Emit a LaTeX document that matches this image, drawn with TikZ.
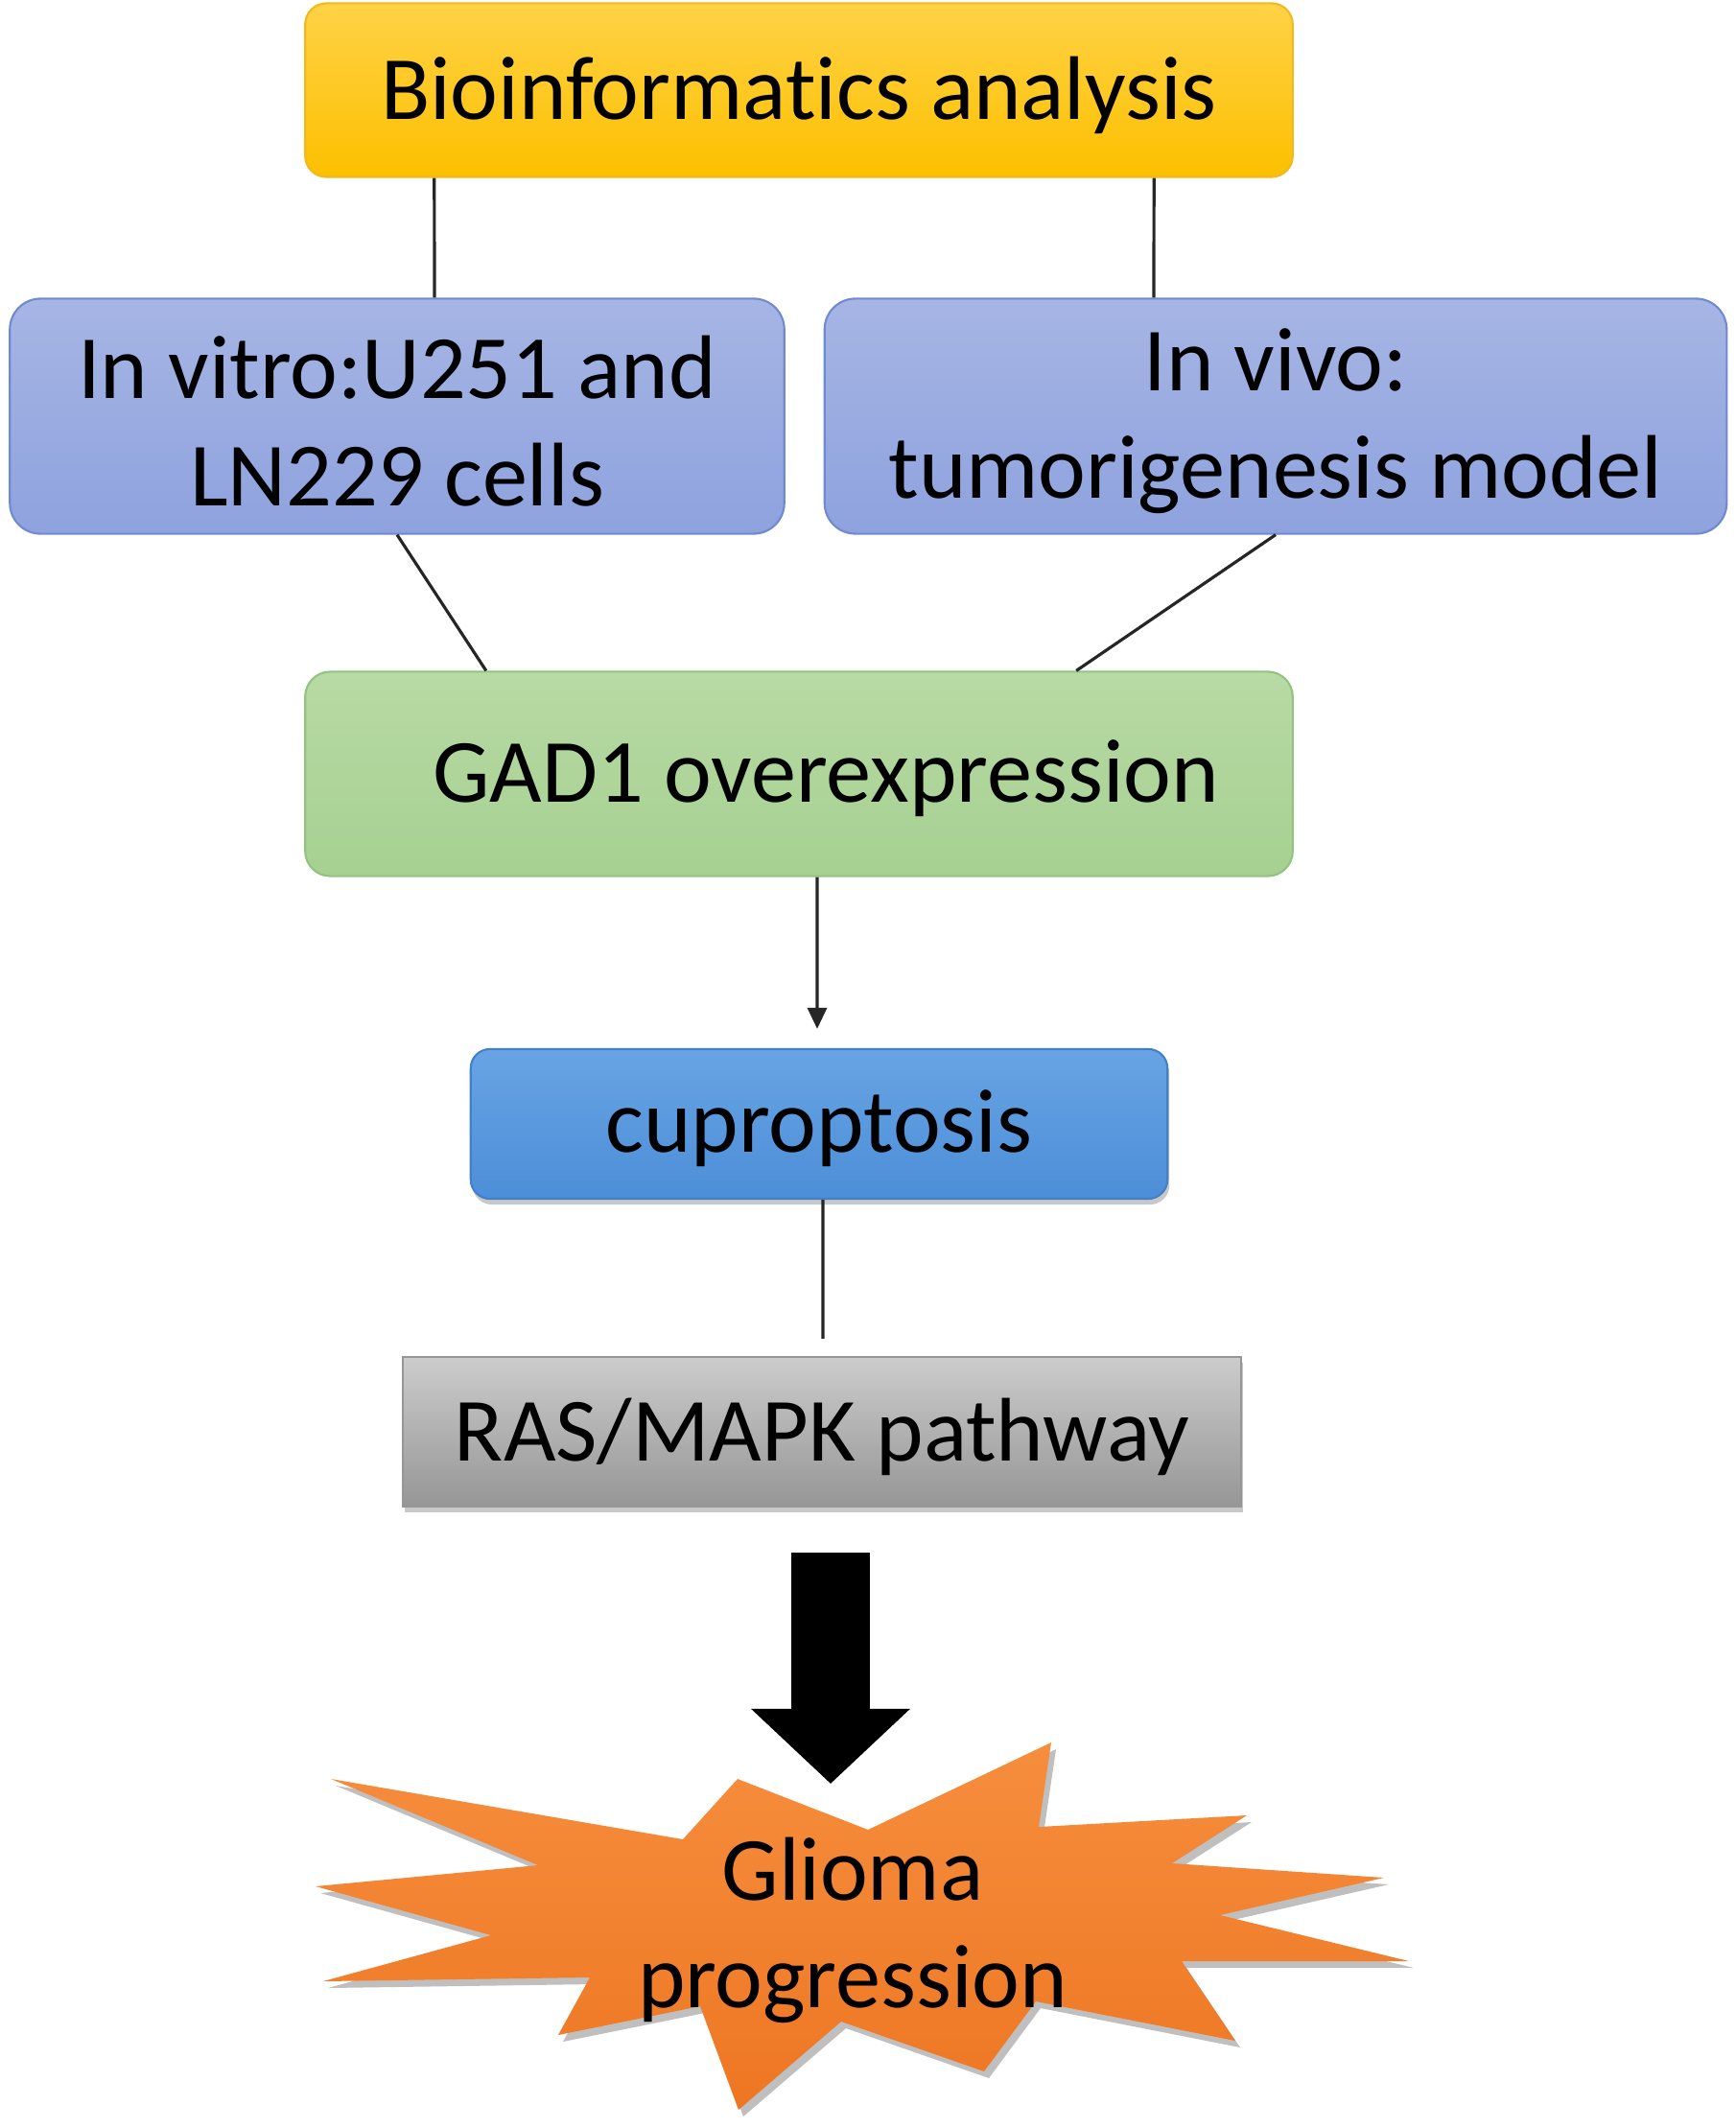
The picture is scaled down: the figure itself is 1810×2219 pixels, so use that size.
\documentclass[tikz,border=0pt]{standalone}
\usepackage{fontspec}
\setmainfont{Carlito}[Ligatures=NoCommon]
\usetikzlibrary{arrows.meta,shadows}
\definecolor{yelT}{RGB}{255,210,70}
\definecolor{yelB}{RGB}{252,192,0}
\definecolor{yelD}{RGB}{240,185,30}
\definecolor{purT}{RGB}{166,181,228}
\definecolor{purB}{RGB}{142,162,222}
\definecolor{purD}{RGB}{112,138,208}
\definecolor{grnT}{RGB}{184,218,164}
\definecolor{grnB}{RGB}{166,208,146}
\definecolor{grnD}{RGB}{148,195,128}
\definecolor{bluT}{RGB}{104,164,228}
\definecolor{bluB}{RGB}{76,142,216}
\definecolor{bluD}{RGB}{68,128,200}
\definecolor{gryT}{RGB}{204,204,204}
\definecolor{gryB}{RGB}{150,150,150}
\definecolor{orgT}{RGB}{246,142,62}
\definecolor{orgB}{RGB}{238,118,34}
\newcommand{\lowr}[1]{\raisebox{-0.05cm}[\height][\depth]{#1}}
\begin{document}
\begin{tikzpicture}[x=0.01cm,y=-0.01cm,
  font=\fontsize{26.8}{32}\selectfont,
  box/.style={inner sep=0pt, align=center, line width=0.6pt},
  shad/.style={drop shadow={shadow xshift=0.02cm, shadow yshift=-0.06cm, opacity=0.3, fill=black!70}},
  conn/.style={line width=0.9pt, black!85},
  bigarrow/.style={line width=0.81cm, black, -{Triangle[length=0.78cm, width=1.61cm]}}
]
\useasboundingbox (0,0) rectangle (1810,2219);
\fill[white] (0,0) rectangle (1810,2219);

% nodes
\node[box, rounded corners=0.22cm, draw=yelD, top color=yelT, bottom color=yelB,
  minimum width=10.29cm, minimum height=1.81cm] (bio) at (833,94) {\lowr{Bioinformatics analysis}};
\node[box, rounded corners=0.32cm, draw=purD, top color=purT, bottom color=purB,
  minimum width=8.07cm, minimum height=2.45cm] (vitro) at (414,434) {\lowr{In vitro:U251 and}\\\lowr{LN229 cells}};
\node[box, rounded corners=0.32cm, draw=purD, top color=purT, bottom color=purB,
  minimum width=9.40cm, minimum height=2.45cm] (vivo) at (1330,434) {\lowr{In vivo:}\\\lowr{tumorigenesis model}};
\node[box, rounded corners=0.26cm, draw=grnD, top color=grnT, bottom color=grnB,
  minimum width=10.29cm, minimum height=2.13cm] (gad) at (833,807) {\hspace*{0.56cm}\lowr{GAD1 overexpression}};
\node[box, shad, rounded corners=0.2cm, draw=bluD, top color=bluT, bottom color=bluB,
  minimum width=7.26cm, minimum height=1.56cm] (cup) at (854,1172) {\lowr{cuproptosis}};
\node[box, shad, draw=gryB, top color=gryT, bottom color=gryB,
  minimum width=8.73cm, minimum height=1.56cm] (ras) at (857,1493) {\lowr{RAS/MAPK pathway}};

% connectors
\draw[conn] ([xshift=-3.80cm]bio.south) -- ([xshift=0.39cm]vitro.north);
\draw[conn] ([xshift=3.70cm]bio.south) -- ([xshift=-1.27cm]vivo.north);
\draw[conn] (vitro.south) -- ([xshift=-3.26cm]gad.north);
\draw[conn] (vivo.south) -- ([xshift=2.89cm]gad.north);
\draw[conn, -{Triangle[length=0.22cm, width=0.2cm]}, shorten >=0.2cm] ([xshift=0.19cm]gad.south) -- ([xshift=-0.02cm]cup.north);
\draw[conn, shorten >=0.18cm] ([xshift=0.04cm]cup.south) -- ([xshift=0.01cm]ras.north);

% starburst
\coordinate (sc) at (889,2008);
\fill[black, opacity=0.25, xshift=0.05cm, yshift=-0.07cm]
  (345,1855) -- (712,1918) -- (769,1855) -- (905,1908) -- (1096,1817) -- (1083,1905) --
  (1300,1893) -- (1222,1943) -- (1443,1958) -- (1272,1997) -- (1469,2045) -- (1232,2045) --
  (1288,2128) -- (1080,2087) -- (1026,2160) -- (877,2108) -- (770,2200) -- (730,2092) --
  (582,2122) -- (615,2062) -- (337,2066) -- (512,2018) -- (329,1967) -- (561,1945) -- cycle;
\shade[top color=orgT, bottom color=orgB]
  (345,1855) -- (712,1918) -- (769,1855) -- (905,1908) -- (1096,1817) -- (1083,1905) --
  (1300,1893) -- (1222,1943) -- (1443,1958) -- (1272,1997) -- (1469,2045) -- (1232,2045) --
  (1288,2128) -- (1080,2087) -- (1026,2160) -- (877,2108) -- (770,2200) -- (730,2092) --
  (582,2122) -- (615,2062) -- (337,2066) -- (512,2018) -- (329,1967) -- (561,1945) -- cycle;
\node[align=center, inner sep=0pt] (glioma) at (sc) {\lowr{Glioma}\\\lowr{progression}};

% big arrow
\coordinate (tip) at (866,1860);
\draw[bigarrow, shorten <=0.47cm] (ras.south -| tip) -- (tip);
\end{tikzpicture}
\end{document}
